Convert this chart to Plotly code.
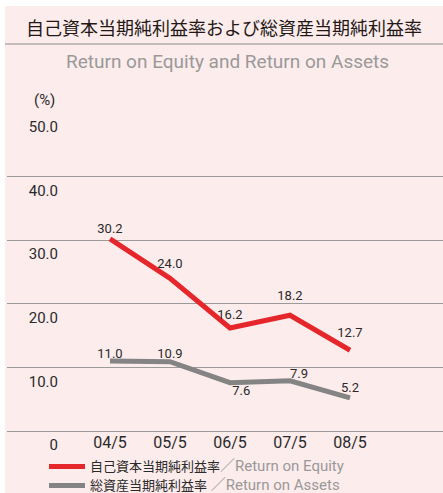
import plotly.graph_objects as go

W, H = 443, 493

# data
periods = ["04/5", "05/5", "06/5", "07/5", "08/5"]
roe = [30.2, 24.0, 16.2, 18.2, 12.7]
roa = [11.0, 10.9, 7.6, 7.9, 5.2]
y_ticks = [0, 10, 20, 30, 40, 50]
y_tick_labels = ["0", "10.0", "20.0", "30.0", "40.0", "50.0"]

# label placement (style only)
roe_text_pos = ["top center"] * 5
roe_gap = [2, 10, 8, 18, 14]
roa_text_pos = ["top center", "top center", "bottom right", "top right", "top center"]
roa_gap = [0, 0, 2, 0, 2]

PINK = "#fdecec"
DARK = "#2a2a2a"
GREY_TXT = "#999999"
FONT = "Roboto, 'Noto Sans CJK JP', sans-serif"


def px_x(p):
    return p / W


def px_y(p):
    return 1 - p / H


def legend_name(jp, en):
    return (f"<span style='color:{DARK};font-size:13px'>{jp}</span>"
            f"<span style='color:{GREY_TXT};font-size:15px'>{en}</span>")


xs = list(range(len(periods)))

fig = go.Figure()

fig.add_trace(go.Scatter(
    x=xs, y=roe, mode="lines",
    line=dict(color="#e5262b", width=5),
    name=legend_name("自己資本当期純利益率", "／Return on Equity"),
))
fig.add_trace(go.Scatter(
    x=xs, y=roa, mode="lines",
    line=dict(color="#848484", width=5),
    name=legend_name("総資産当期純利益率", " ／Return on Assets"),
))

# value labels
for vals, pos, gap in [(roe, roe_text_pos, roe_gap), (roa, roa_text_pos, roa_gap)]:
    fig.add_trace(go.Scatter(
        x=xs, y=vals, mode="markers+text",
        marker=dict(size=gap, opacity=0),
        text=[f"{v:.1f}" for v in vals], textposition=pos,
        textfont=dict(size=13, color=DARK, family=FONT),
        showlegend=False, hoverinfo="skip",
    ))

y_dom = [px_y(431), px_y(113)]

fig.update_layout(
    width=W, height=H,
    margin=dict(l=0, r=0, t=0, b=0, autoexpand=False),
    paper_bgcolor="white",
    plot_bgcolor="rgba(0,0,0,0)",
    font=dict(family=FONT, color=DARK),
    showlegend=True,
    legend=dict(x=px_x(44), y=px_y(452), xanchor="left", yanchor="top",
                bgcolor="rgba(0,0,0,0)", font=dict(size=12),
                tracegroupgap=0, itemwidth=36),
    xaxis=dict(
        domain=[px_x(7), 1], range=[-103 / 60, 4 + 93 / 60],
        tickvals=xs, ticktext=periods, showgrid=False, zeroline=False,
        showline=False, tickfont=dict(size=16, color=DARK), ticks="",
        fixedrange=True, automargin=False,
    ),
    yaxis=dict(
        domain=y_dom, range=[0, 50], tickvals=y_ticks,
        showticklabels=False, showgrid=True, gridcolor="#9a9a9a", gridwidth=1,
        zeroline=True, zerolinecolor="#9a9a9a", zerolinewidth=1, showline=False,
        automargin=False,
    ),
    yaxis2=dict(
        overlaying="y", anchor="free", position=px_x(58), side="left",
        range=[0, 50], tickvals=y_ticks, ticktext=y_tick_labels,
        showgrid=False, zeroline=False, showline=False, ticks="",
        tickfont=dict(size=15, color=DARK), ticklabelshift=14,
        automargin=False,
    ),
    shapes=[
        dict(type="rect", xref="paper", yref="paper", x0=px_x(5), x1=1,
             y0=0, y1=px_y(6), fillcolor=PINK, line=dict(width=0), layer="below"),
        dict(type="line", xref="paper", yref="paper", x0=px_x(5), x1=1,
             y0=px_y(44), y1=px_y(44), line=dict(color="#8a8a8a", width=1)),
    ],
    annotations=[
        dict(text="自己資本当期純利益率および総資産当期純利益率",
             x=px_x(224), y=px_y(27), xref="paper", yref="paper",
             xanchor="center", yanchor="middle",
             showarrow=False, font=dict(size=18, color="#231815",
                                        family="'Noto Sans CJK JP'")),
        dict(text="Return on Equity and Return on Assets",
             x=px_x(227), y=px_y(62), xref="paper", yref="paper",
             xanchor="center", yanchor="middle",
             showarrow=False, font=dict(size=19, color=GREY_TXT)),
        dict(text="(%)", x=px_x(44), y=px_y(100), xref="paper", yref="paper",
             xanchor="center", yanchor="middle",
             showarrow=False, font=dict(size=15, color=DARK)),
    ],
)

# dummy trace so yaxis2 is drawn
fig.add_trace(go.Scatter(x=[None], y=[None], yaxis="y2", showlegend=False,
                         hoverinfo="skip"))

fig.write_html("out.html", config={"displayModeBar": False},
               post_script="document.body.style.margin='0';")
